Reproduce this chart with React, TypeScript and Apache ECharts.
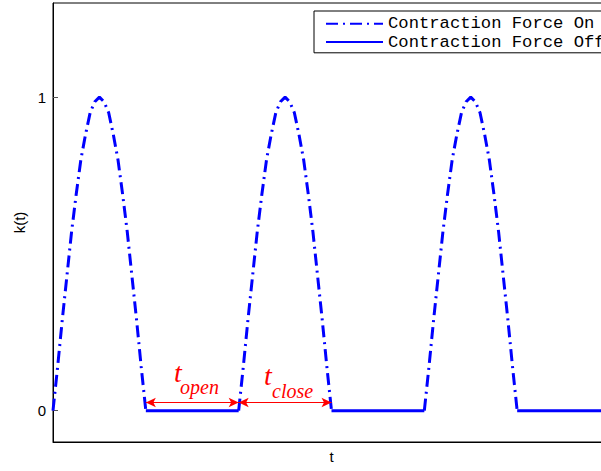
import React, { useEffect, useRef } from "react";
import * as echarts from "echarts";

// Pulse shape during contraction (phase within one "on" interval, k value)
const pulsePhase = [0, 0.05, 0.1, 0.15, 0.2, 0.25, 0.3, 0.35, 0.4, 0.45, 0.5, 0.55, 0.6, 0.65, 0.7, 0.75, 0.8, 0.85, 0.9, 0.95, 1];
const pulseK = [0, 0.14, 0.29, 0.43, 0.57, 0.69, 0.8, 0.88, 0.95, 0.985, 1, 0.985, 0.95, 0.88, 0.8, 0.69, 0.57, 0.43, 0.29, 0.14, 0];
const pulseStarts = [0, 2, 4];
// Off intervals (start, end), k = 0
const offStarts = [1, 3, 5];
const offEnds = [2, 4, 6];
const yTicks = [0, 1];
const arrowLevel = 0.026;
const arrowSpans = [
  [1, 2],
  [2, 3],
];

export default function App() {
  const ref = useRef<HTMLDivElement>(null);
  useEffect(() => {
    if (!ref.current) return;
    const chart = echarts.init(ref.current, undefined, { renderer: "svg" });

    const onData: any[] = [];
    pulseStarts.forEach((s) => {
      pulsePhase.forEach((p, i) => onData.push([s + p, pulseK[i]]));
      onData.push([s + 1.5, null]);
    });
    const offData: any[] = [];
    offStarts.forEach((s, i) => {
      offData.push([s, 0]);
      offData.push([offEnds[i], 0]);
      offData.push([offEnds[i] + 0.01, null]);
    });

    const serif = "'Liberation Serif', 'Times New Roman', serif";
    chart.setOption({
      animation: false,
      grid: {
        left: 53,
        top: 3,
        width: 557,
        bottom: 29,
        show: true,
        borderColor: "#000",
        borderWidth: 1,
        backgroundColor: "#fff",
      },
      legend: {
        orient: "vertical",
        left: 314,
        top: 11,
        padding: [4.3, 4, 2.3, 11],
        itemWidth: 57,
        itemHeight: 14,
        itemGap: 1.2,
        backgroundColor: "#fff",
        borderColor: "#000",
        borderWidth: 1,
        borderRadius: 0,
        itemStyle: { opacity: 0 },
        data: ["Contraction Force On", "Contraction Force Off"],
        textStyle: {
          fontFamily: "'Liberation Mono', 'Courier New', monospace",
          fontSize: 17.2,
          color: "#000",
        },
        selectedMode: false,
      },
      xAxis: {
        type: "value",
        min: 0,
        max: 6,
        name: "t",
        nameLocation: "middle",
        nameGap: 7,
        nameTextStyle: { fontFamily: "'Liberation Sans', Arial, sans-serif", fontSize: 15, color: "#000" },
        axisLine: { show: true, onZero: false, lineStyle: { color: "#000", width: 1 } },
        axisTick: { show: false },
        axisLabel: { show: false },
        splitLine: { show: false },
      },
      yAxis: {
        type: "value",
        min: -0.1,
        max: 1.3,
        name: "k(t)",
        nameLocation: "middle",
        nameGap: 26,
        nameTextStyle: { fontFamily: "'Liberation Sans', Arial, sans-serif", fontSize: 15, color: "#000" },
        axisLine: { show: true, onZero: false, lineStyle: { color: "#000", width: 1 } },
        axisTick: { show: true, inside: true, length: 5, customValues: yTicks, lineStyle: { color: "#555" } },
        axisLabel: {
          show: true,
          customValues: yTicks,
          margin: 7,
          fontFamily: "'Liberation Sans', Arial, sans-serif",
          fontSize: 15,
          color: "#000",
        },
        splitLine: { show: false },
      },
      series: [
        {
          name: "Contraction Force On",
          type: "line",
          data: onData,
          symbol: "none",
          connectNulls: false,
          lineStyle: { color: "#0000ff", width: 3, type: [12, 5, 2, 5] },
          itemStyle: { color: "#0000ff" },
          silent: true,
        },
        {
          name: "Contraction Force Off",
          type: "line",
          data: offData,
          symbol: "none",
          connectNulls: false,
          lineStyle: { color: "#0000ff", width: 3, type: "solid" },
          itemStyle: { color: "#0000ff" },
          silent: true,
          markLine: {
            silent: true,
            symbol: ["arrow", "arrow"],
            symbolSize: [7, 10],
            label: { show: false },
            lineStyle: { color: "#ff0000", width: 1, type: "solid" },
            itemStyle: { color: "#ff0000" },
            emphasis: { disabled: true },
            data: arrowSpans.map((sp) => [
              { coord: [sp[0], arrowLevel] },
              { coord: [sp[1], arrowLevel] },
            ]),
          },
        },
      ],
      graphic: [
        { type: "text", left: 174, top: 358, style: { text: "t", font: `italic 28px ${serif}`, fill: "#ff0000" } },
        { type: "text", left: 180, top: 377, style: { text: "open", font: `italic 20px ${serif}`, fill: "#ff0000" } },
        { type: "text", left: 264, top: 361, style: { text: "t", font: `italic 28px ${serif}`, fill: "#ff0000" } },
        { type: "text", left: 272, top: 381, style: { text: "close", font: `italic 20px ${serif}`, fill: "#ff0000" } },
      ],
    });
    return () => chart.dispose();
  }, []);

  return (
    <div style={{ position: "fixed", left: 0, top: 0, width: 601, height: 471, overflow: "hidden", background: "#fff" }}>
      <div ref={ref} style={{ width: 640, height: 471 }} />
    </div>
  );
}
